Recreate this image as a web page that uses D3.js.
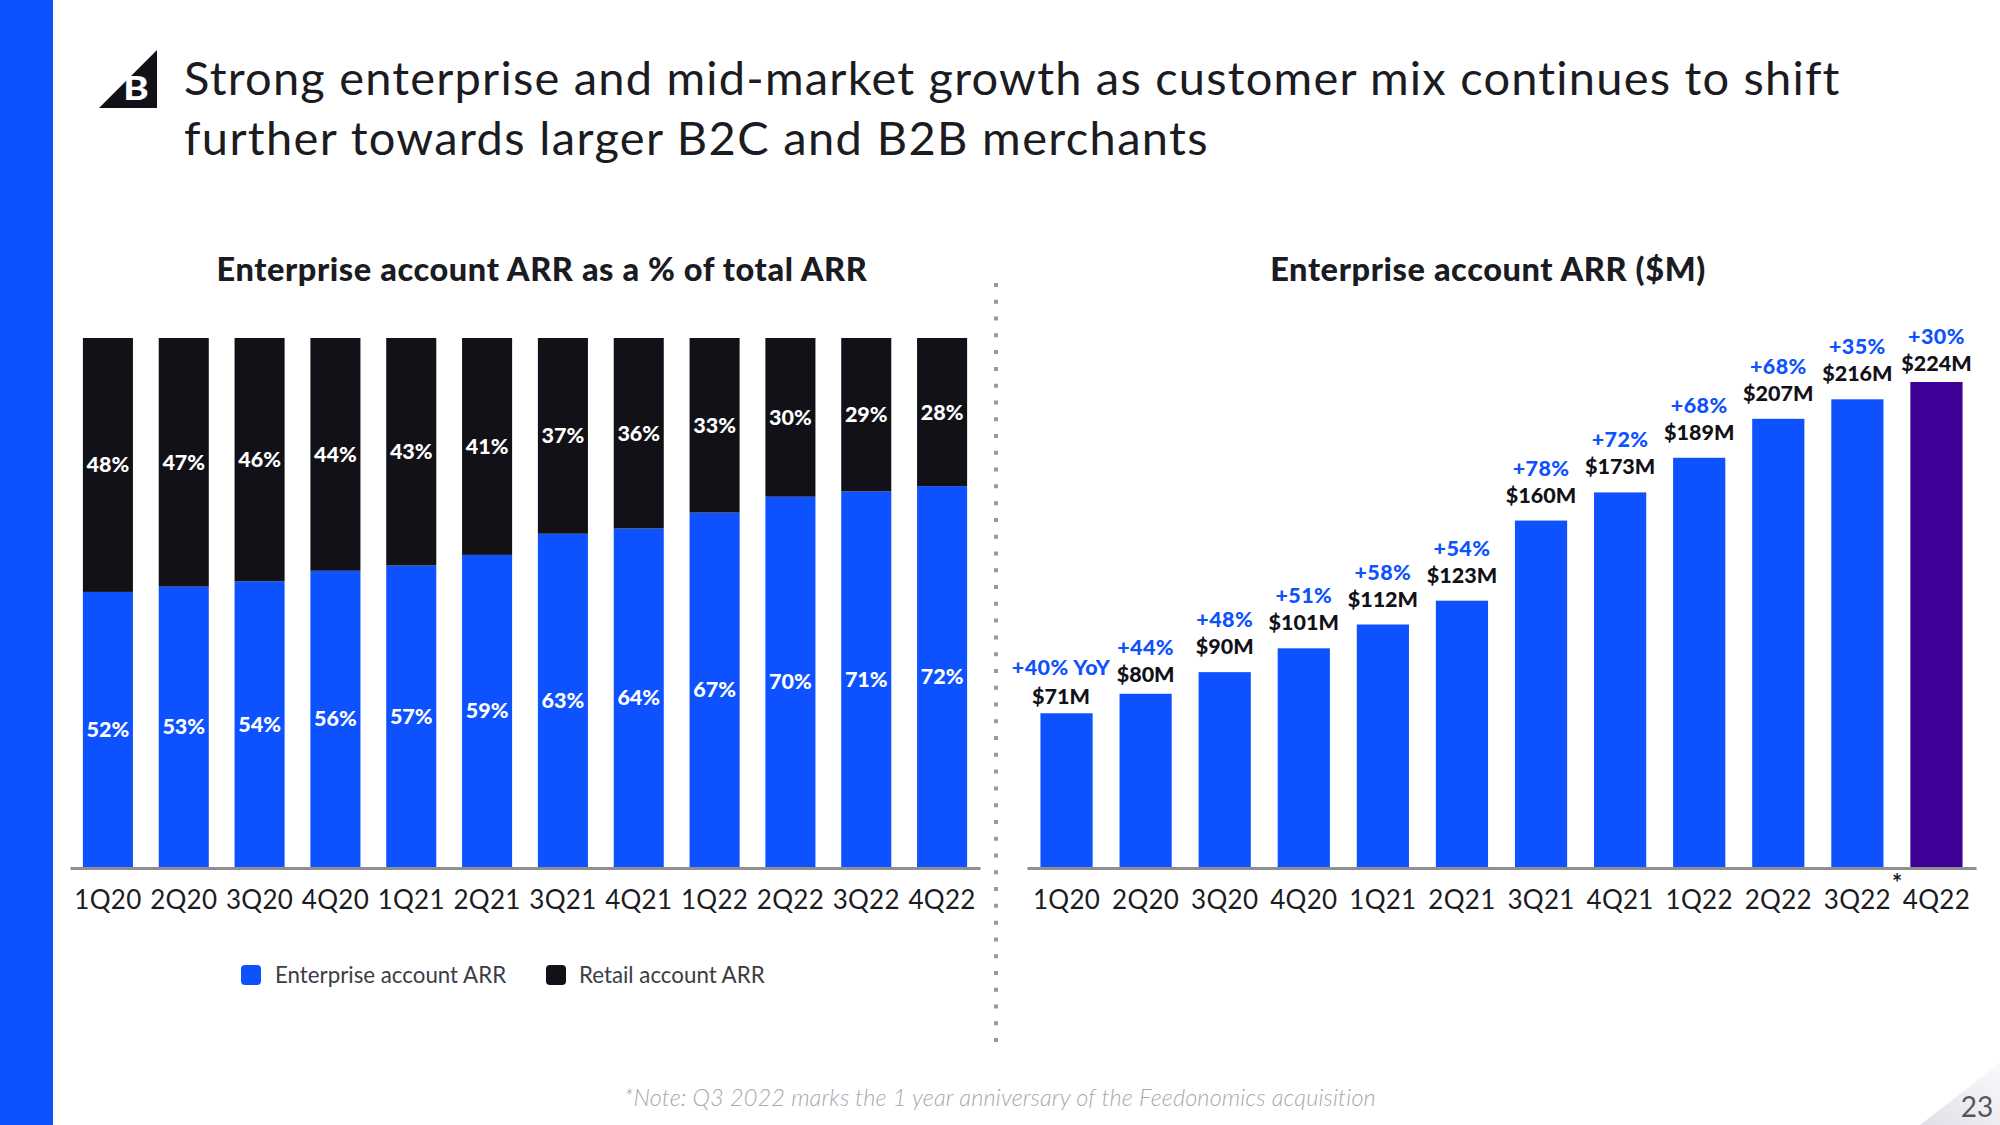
<!DOCTYPE html>
<html><head><meta charset="utf-8">
<script src="https://cdn.jsdelivr.net/npm/d3@7"></script>
<style>html,body{margin:0;padding:0;background:#fff}svg{display:block}text{font-family:Lato,"Open Sans",sans-serif}</style>
</head><body><svg id="c" width="2000" height="1125"></svg>
<script>
const titleLines = ["Strong enterprise and mid-market growth as customer mix continues to shift","further towards larger B2C and B2B merchants"];
const quarters = ["1Q20","2Q20","3Q20","4Q20","1Q21","2Q21","3Q21","4Q21","1Q22","2Q22","3Q22","4Q22"];
const enterprisePct = [52,53,54,56,57,59,63,64,67,70,71,72];
const retailPct = [48,47,46,44,43,41,37,36,33,30,29,28];
const enterpriseArr = [71,80,90,101,112,123,160,173,189,207,216,224];
const yoyGrowth = ["+40% YoY","+44%","+48%","+51%","+58%","+54%","+78%","+72%","+68%","+68%","+35%","+30%"];
const seriesNames = ["Enterprise account ARR","Retail account ARR"];

const BLUE="#0e52ff", BLACK="#121118", PURPLE="#3f0097", AXIS="#8f8f8f", INK="#1b1b22";
const svg=d3.select("#c");
const defs=svg.append("defs");
const g=defs.append("linearGradient").attr("id","corner").attr("x1","0").attr("y1","1").attr("x2","1").attr("y2","0");
g.append("stop").attr("offset","0").attr("stop-color","#dfe0e8");
g.append("stop").attr("offset","1").attr("stop-color","#fafafc");

// slide furniture
svg.append("rect").attr("x",0).attr("y",0).attr("width",53).attr("height",1125).attr("fill",BLUE);
svg.append("polygon").attr("points","1920,1125 2000,1063 2000,1125").attr("fill","url(#corner)");
svg.append("text").attr("x",1977).attr("y",1117).attr("text-anchor","middle").attr("font-size",28).attr("fill","#55555c").text("23");
svg.append("polygon").attr("points","99,108 157,50 157,108").attr("fill",BLACK);
svg.append("text").attr("transform","translate(136,100) scale(1.2,1)").attr("text-anchor","middle").attr("font-size",32).attr("font-weight",900).attr("fill","#fff").text("B");
svg.selectAll(".ttl").data(titleLines).join("text").attr("class","ttl").attr("x",184).attr("y",(d,i)=>95+i*59.5)
  .attr("font-size",47).attr("letter-spacing",(d,i)=>i?1.35:1.2).attr("fill",INK).text(d=>d);

// left chart
const yBase=867;
const x1=d3.scaleBand().domain(quarters).range([70,980]).paddingInner(0.34).paddingOuter(0.17);
const y1=d3.scaleLinear().domain([0,100]).range([yBase,338]);
const rows=quarters.map((q,i)=>({q,enterprise:enterprisePct[i],retail:retailPct[i]}));
const stack=d3.stack().keys(["enterprise","retail"])(rows);
const colours={enterprise:BLUE,retail:BLACK};
const layers=svg.selectAll(".layer").data(stack).join("g").attr("class","layer").attr("fill",d=>colours[d.key]);
layers.selectAll("rect").data(d=>d).join("rect")
  .attr("x",d=>x1(d.data.q)).attr("width",x1.bandwidth())
  .attr("y",d=>y1(d[1])).attr("height",d=>y1(d[0])-y1(d[1]));
layers.selectAll("text").data(d=>d).join("text")
  .attr("x",d=>x1(d.data.q)+x1.bandwidth()/2).attr("y",d=>y1((d[0]+d[1])/2)+7.5)
  .attr("text-anchor","middle").attr("font-size",21.5).attr("font-weight",900).attr("fill","#fff")
  .text(d=>(d[1]-d[0])+"%");

function styleAxis(a){
  a.select(".domain").attr("stroke",AXIS).attr("stroke-width",3);
  a.selectAll("text").attr("font-size",26).attr("fill",INK).attr("dy",0).attr("y",41).attr("letter-spacing",0.3).style("font-family","Lato");
}
svg.append("g").attr("transform",`translate(0,${yBase+1})`).call(d3.axisBottom(x1).tickSize(0).tickSizeOuter(0)).call(styleAxis);

svg.append("text").attr("x",542).attr("y",281).attr("text-anchor","middle").attr("font-size",32.5).attr("font-weight",900).attr("letter-spacing",0.6).attr("fill",INK).text("Enterprise account ARR as a % of total ARR");

// legend
const legendX=[241,546], legendTextX=[275,579];
seriesNames.forEach((n,i)=>{
  svg.append("rect").attr("x",legendX[i]).attr("y",965).attr("width",20).attr("height",20).attr("rx",4).attr("fill",i?BLACK:BLUE);
  svg.append("text").attr("x",legendTextX[i]).attr("y",983).attr("font-size",22.3).attr("fill","#3c3c44").text(n);
});

// divider
svg.append("line").attr("x1",996).attr("x2",996).attr("y1",283).attr("y2",1043).attr("stroke","#9a9a9a").attr("stroke-width",4).attr("stroke-dasharray","4 12.78");

// right chart
const x2=d3.scaleBand().domain(quarters).range([1027,1976]).paddingInner(0.34).paddingOuter(0.17);
const y2=d3.scaleLinear().domain([0,224]).range([yBase,382]);
svg.selectAll(".arr").data(enterpriseArr).join("rect").attr("class","arr")
  .attr("x",(d,i)=>x2(quarters[i])).attr("width",x2.bandwidth())
  .attr("y",d=>y2(d)).attr("height",d=>yBase-y2(d))
  .attr("fill",(d,i)=>i===11?PURPLE:BLUE);
const valueGap=i=>i===0?16.5:(i===1||i===11)?18.5:25;
const labelShift=i=>i===0?-5.5:0;
const cx=i=>x2(quarters[i])+x2.bandwidth()/2+labelShift(i);
svg.selectAll(".val").data(enterpriseArr).join("text").attr("class","val")
  .attr("x",(d,i)=>cx(i)).attr("y",(d,i)=>y2(d)-valueGap(i)+7)
  .attr("text-anchor","middle").attr("font-size",21.5).attr("font-weight",900).attr("fill",BLACK).text(d=>`$${d}M`);
svg.selectAll(".yoy").data(yoyGrowth).join("text").attr("class","yoy")
  .attr("x",(d,i)=>cx(i)).attr("y",(d,i)=>y2(enterpriseArr[i])-valueGap(i)-(i===0?29.5:27.5)+7.5)
  .attr("text-anchor","middle").attr("font-size",21.5).attr("font-weight",900).attr("letter-spacing",0.4).attr("fill",BLUE).text(d=>d);
svg.append("g").attr("transform",`translate(0,${yBase+1})`).call(d3.axisBottom(x2).tickSize(0).tickSizeOuter(0)).call(styleAxis);
svg.append("text").attr("x",1897).attr("y",892).attr("text-anchor","middle").attr("font-size",24).attr("font-weight",700).attr("fill",INK).text("*");
svg.append("text").attr("x",1488).attr("y",281).attr("text-anchor","middle").attr("font-size",32.5).attr("font-weight",900).attr("letter-spacing",0.6).attr("fill",INK).text("Enterprise account ARR ($M)");

svg.append("text").attr("x",1000).attr("y",1106).attr("text-anchor","middle").attr("font-size",23.5).attr("font-style","italic").attr("font-weight",300).attr("letter-spacing",0.15).attr("fill","#a8a8ae").text("*Note: Q3 2022 marks the 1 year anniversary of the Feedonomics acquisition");
</script></body></html>
